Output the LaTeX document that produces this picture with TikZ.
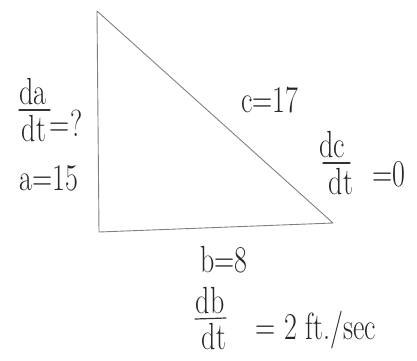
\documentclass[tikz,border=0pt]{standalone}
\newcommand{\hw}[1]{\scalebox{1}[1.35]{#1}}
\begin{document}
\begin{tikzpicture}[x=1pt,y=-1pt,
  lbl/.style={inner sep=0pt, text=black!85, font=\fontsize{28}{32}\selectfont},
  edge/.style={draw=black!50, line width=0.9pt, line join=round},
  bar/.style={draw=black!80, line width=1.2pt, line cap=round}]
\useasboundingbox (0,0) rectangle (417,360);
\coordinate (A) at (97,11);
\coordinate (B) at (99,232);
\coordinate (C) at (333,223);
\draw[edge] (A) -- (B) -- (C) -- cycle;
% left side: da/dt = ?
\node[lbl, anchor=south] (dan) at (33,105) {\hw{da}};
\node[lbl, anchor=north] (dad) at (34,115) {\hw{dt}};
\coordinate (dab1) at (19,110);
\coordinate (dab2) at (50,110);
\draw[bar] (dab1) -- (dab2);
\node[lbl] (daq) at (66,123) {\hw{=?}};
\node[lbl] (a) at (49,178) {\hw{a=15}};
% hypotenuse
\node[lbl] (c) at (270,100) {\hw{c=17}};
\node[lbl, anchor=south] (dcn) at (332,158) {\hw{dc}};
\node[lbl, anchor=north] (dcd) at (341,168) {\hw{dt}};
\coordinate (dcb1) at (323,163);
\coordinate (dcb2) at (350,163);
\draw[bar] (dcb1) -- (dcb2);
\node[lbl] (dcz) at (389,174) {\hw{=0}};
% bottom
\node[lbl, anchor=south] (b) at (224,273) {\hw{b=8}};
\node[lbl, anchor=south] (dbn) at (210,314) {\hw{db}};
\node[lbl, anchor=north] (dbd) at (214,323) {\hw{dt}};
\coordinate (dbb1) at (195,319);
\coordinate (dbb2) at (226,318);
\draw[bar] (dbb1) -- (dbb2);
\node[lbl] (dbv) at (316,330) {\hw{= 2 ft./sec}};
\end{tikzpicture}
\end{document}
